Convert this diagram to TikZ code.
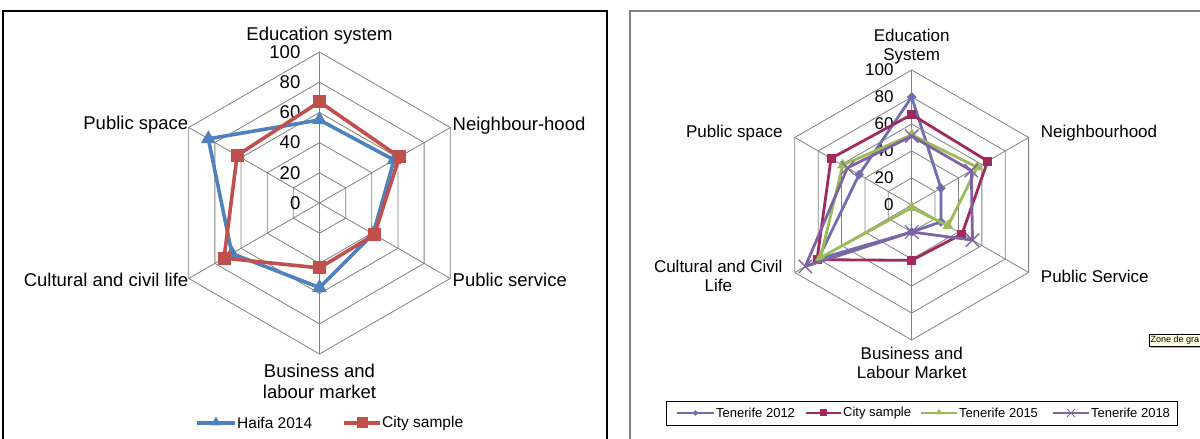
\documentclass[tikz,border=0pt]{standalone}
\usepackage{fontspec}
\setmainfont{Liberation Sans}
\usetikzlibrary{shapes.geometric,shapes.misc}
\definecolor{hblue}{HTML}{4F81BD}
\definecolor{hred}{HTML}{C0504D}
\definecolor{tA}{HTML}{6E6EAE}
\definecolor{tC}{HTML}{9E2A5E}
\definecolor{tB}{HTML}{9BBB59}
\definecolor{tD}{HTML}{8064A2}
\definecolor{gridc}{HTML}{808080}
\definecolor{tipbg}{HTML}{FFFFE1}
\tikzset{
  gridline/.style={gridc, line width=0.8},
  bigtri/.style={regular polygon, regular polygon sides=3, minimum size=17, inner sep=0},
  bigsq/.style={rectangle, minimum size=13, inner sep=0},
  smdia/.style={diamond, minimum size=10, inner sep=0},
  smsq/.style={rectangle, minimum size=9, inner sep=0},
  smtri/.style={regular polygon, regular polygon sides=3, minimum size=13, inner sep=0},
  smx/.style={cross out, draw, minimum size=9, inner sep=0, line width=1.3},
  llab/.style={font=\fontsize{18.5}{21}\selectfont, inner sep=0, align=center},
  rlab/.style={font=\fontsize{17}{18.5}\selectfont, inner sep=0, align=center},
  lleg/.style={font=\fontsize{15.5}{18}\selectfont, inner sep=0, anchor=west},
  rleg/.style={font=\fontsize{13}{15}\selectfont, inner sep=0, anchor=west},
}
\begin{document}
\begin{tikzpicture}[x=1pt,y=1pt]
\useasboundingbox (0,0) rectangle (1200,439);
% frames
\draw[black, line width=1.2] (3,-5) -- (3,428) -- (607,428) -- (607,-5);
\draw[gridc, line width=1.6] (630,-5) -- (630,428) -- (1210,428);

% ---------------- LEFT CHART ----------------
\begin{scope}[shift={(319.5,236)}]
  \foreach \r in {30.2,60.4,90.6,120.8,151}
    \draw[gridline] (90:\r) -- (30:\r) -- (-30:\r) -- (-90:\r) -- (-150:\r) -- (150:\r) -- cycle;
  \foreach \a in {90,30,-30,-90,-150,150}
    \draw[gridline] (0,0) -- (\a:151);
  \foreach \v in {0,20,40,60,80,100}
    \node[llab, anchor=east] (LT\v) at (-19, {\v*1.51}) {\v};
  \coordinate (LC) at (0,0);
  \node[llab, anchor=south] (Led) at (0,158) {Education system};
  \node[llab, anchor=west] (Lnb) at (133,77) {Neighbour-hood};
  \node[llab, anchor=west] (Lps) at (133,-77) {Public service};
  \node[llab, anchor=north] (Lbu) at (0,-161) {Business and\\labour market};
  \node[llab, anchor=east] (Lcu) at (-131,-77) {Cultural and civil life};
  \node[llab, anchor=east] (Lsp) at (-131,78) {Public space};
  \foreach \val [count=\i] in {55,57,41,56,67,85}
    \coordinate (H\i) at ({150-60*\i}:{\val*1.51});
  \foreach \val [count=\i] in {67,61,42,43,73,63}
    \coordinate (C\i) at ({150-60*\i}:{\val*1.51});
  \draw[hblue, line width=3.6, line join=round] (H1)--(H2)--(H3)--(H4)--(H5)--(H6)--cycle;
  \foreach \i in {1,...,6} \node[bigtri, fill=hblue] (HM\i) at (H\i) {};
  \draw[hred, line width=3.6, line join=round] (C1)--(C2)--(C3)--(C4)--(C5)--(C6)--cycle;
  \foreach \i in {1,...,6} \node[bigsq, fill=hred] (CM\i) at (C\i) {};
\end{scope}
% left legend
\coordinate (LL1a) at (197,16); \coordinate (LL1b) at (235,16);
\draw[hblue, line width=3.6] (LL1a) -- (LL1b);
\node[bigtri, fill=hblue, minimum size=12] (LL1m) at (216,16.5) {};
\node[lleg] (LL1t) at (237,16) {Haifa 2014};
\coordinate (LL2a) at (344,16); \coordinate (LL2b) at (380,16);
\draw[hred, line width=3.6] (LL2a) -- (LL2b);
\node[bigsq, fill=hred, minimum size=11] (LL2m) at (362,16) {};
\node[lleg] (LL2t) at (382,16) {City sample};

% ---------------- RIGHT CHART ----------------
\begin{scope}[shift={(911.7,234)}]
  \foreach \r in {27,54,81,108,135}
    \draw[gridline] (90:\r) -- (30:\r) -- (-30:\r) -- (-90:\r) -- (-150:\r) -- (150:\r) -- cycle;
  \foreach \a in {90,30,-30,-90,-150,150}
    \draw[gridline] (0,0) -- (\a:135);
  \foreach \v in {0,20,40,60,80,100}
    \node[rlab, anchor=east] (RT\v) at (-18, {\v*1.35}) {\v};
  \node[rlab, anchor=south] (Red) at (0,141) {Education\\System};
  \node[rlab, anchor=west] (Rnb) at (129,72) {Neighbourhood};
  \node[rlab, anchor=west] (Rps) at (129,-71) {Public Service};
  \node[rlab, anchor=north] (Rbu) at (0,-142) {Business and\\Labour Market};
  \node[rlab, anchor=east] (Rcu) at (-129,-71) {Cultural and Civil\\Life};
  \node[rlab, anchor=east] (Rsp) at (-129,72) {Public space};
  \foreach \val [count=\i] in {80,25,25,20,80,45}
    \coordinate (A\i) at ({150-60*\i}:{\val*1.35});
  \foreach \val [count=\i] in {67,65,43,41,81,69}
    \coordinate (B\i) at ({150-60*\i}:{\val*1.35});
  \foreach \val [count=\i] in {52,56,31,2,78,59}
    \coordinate (G\i) at ({150-60*\i}:{\val*1.35});
  \foreach \val [count=\i] in {51,51,52,20,91,55}
    \coordinate (D\i) at ({150-60*\i}:{\val*1.35});
  \draw[tA, line width=2.8, line join=round] (A1)--(A2)--(A3)--(A4)--(A5)--(A6)--cycle;
  \foreach \i in {1,...,6} \node[smdia, fill=tA] (AM\i) at (A\i) {};
  \draw[tC, line width=2.8, line join=round] (B1)--(B2)--(B3)--(B4)--(B5)--(B6)--cycle;
  \foreach \i in {1,...,6} \node[smsq, fill=tC] (BM\i) at (B\i) {};
  \draw[tB, line width=2.8, line join=round] (G1)--(G2)--(G3)--(G4)--(G5)--(G6)--cycle;
  \foreach \i in {1,...,6} \node[smtri, fill=tB] (GM\i) at (G\i) {};
  \draw[tD, line width=2.8, line join=round] (D1)--(D2)--(D3)--(D4)--(D5)--(D6)--cycle;
  \foreach \i in {1,...,6} \node[smx, tD, minimum size=12] (DM\i) at (D\i) {};
\end{scope}
% right legend
\node[draw=black, line width=0.8, minimum width=511, minimum height=24, inner sep=0] (RLbox) at (921.5,26) {};
\coordinate (RL1a) at (677,26); \coordinate (RL1b) at (714,26);
\draw[tA, line width=2.4] (RL1a) -- (RL1b);
\node[smdia, fill=tA, minimum size=6] (RL1m) at (695.5,26) {};
\node[rleg] (RL1t) at (716,26) {Tenerife 2012};
\coordinate (RL2a) at (806,26); \coordinate (RL2b) at (841,26);
\draw[tC, line width=2.4] (RL2a) -- (RL2b);
\node[smsq, fill=tC, minimum size=7] (RL2m) at (823.5,26) {};
\node[rleg] (RL2t) at (843,26) {City sample};
\coordinate (RL3a) at (921,26); \coordinate (RL3b) at (957,26);
\draw[tB, line width=2.4] (RL3a) -- (RL3b);
\node[smtri, fill=tB, minimum size=8] (RL3m) at (939,26.5) {};
\node[rleg] (RL3t) at (959,26) {Tenerife 2015};
\coordinate (RL4a) at (1053,26); \coordinate (RL4b) at (1089,26);
\draw[tD, line width=2.4] (RL4a) -- (RL4b);
\node[smx, tD, minimum size=7, line width=1] (RL4m) at (1071,26) {};
\node[rleg] (RL4t) at (1091,26) {Tenerife 2018};

% tooltip
\fill[gray!60] (1151,91) rectangle (1202,103);
\draw[black, line width=0.6, fill=tipbg] (1149,93) rectangle (1203,105);
\node[font=\fontsize{9}{10}\selectfont, anchor=west, inner sep=0] (tip) at (1150.5,99) {Zone de gra};
\end{tikzpicture}
\end{document}
